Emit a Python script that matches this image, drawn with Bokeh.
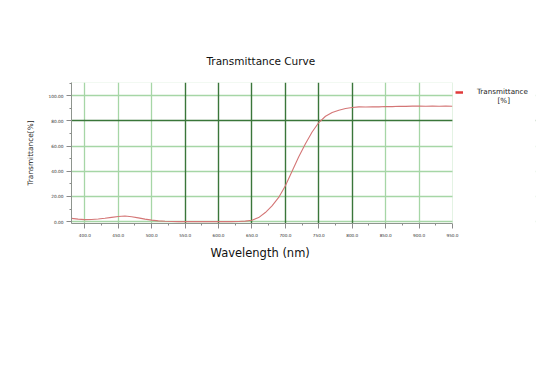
from bokeh.plotting import figure
from bokeh.models import (FixedTicker, NumeralTickFormatter, Grid, Legend, LegendItem,
                          Label, Range1d, BoxAnnotation, Title)
from bokeh.embed import file_html
from bokeh.resources import INLINE

wavelength = [380, 390, 400, 410, 420, 430, 440, 450, 460, 470, 480, 490, 500, 510, 520,
              530, 540, 550, 560, 570, 580, 590, 600, 610, 620, 630, 640, 650, 660, 670,
              680, 690, 700, 710, 720, 730, 740, 750, 760, 770, 780, 790, 800, 810, 820,
              830, 840, 850, 860, 870, 880, 890, 900, 910, 920, 930, 940, 950]
transmittance = [2.6, 2.0, 1.6, 1.7, 2.1, 2.7, 3.4, 4.1, 4.4, 3.9, 3.0, 2.0, 1.2, 0.6, 0.3,
                 0.1, 0.0, 0.0, 0.0, 0.0, 0.0, 0.0, 0.0, 0.0, 0.0, 0.1, 0.4, 1.1, 3.2, 7.2,
                 12.5, 19.2, 28.5, 40.0, 51.5, 61.9, 71.2, 78.7, 83.7, 86.7, 88.5, 89.9, 90.7, 91.1, 91.0,
                 91.2, 91.1, 91.4, 91.3, 91.6, 91.5, 91.7, 91.8, 91.6, 91.7, 91.6, 91.8, 91.6]

x_major = [400, 450, 500, 550, 600, 650, 700, 750, 800, 850, 900, 950]
x_minor = [425, 475, 525, 575, 625, 675, 725, 775, 825, 875, 925]
y_major = [0, 20, 40, 60, 80, 100]
y_minor = [10, 30, 50, 70, 90, 110]
x_grid_light = [400, 450, 500, 850, 900]
x_grid_dark = [550, 600, 650, 700, 750, 800]
y_grid_light = [0, 20, 40, 60, 100]
y_grid_dark = [80]
x_lo, x_hi = 380, 950
y_lo, y_hi = -1.5, 110.5
series_name = "Transmittance"
series_unit = "[%]"

LIGHT = "#a6d6a6"
DARK = "#3a763a"

# the frame runs on past x_hi to leave room for the legend; that part is blanked out
p = figure(width=540, height=364, output_backend="svg", toolbar_location=None,
           x_range=Range1d(x_lo, 1074.2), y_range=Range1d(y_lo, y_hi),
           min_border_left=71, min_border_right=5, min_border_top=82, min_border_bottom=141,
           title="Transmittance Curve")
p.title.align = "left"
p.title.offset = 135
p.title.text_font = "DejaVu Sans"
p.title.text_font_size = "10.5px"
p.title.text_font_style = "normal"
p.title.text_color = "#111111"
p.title.standoff = 31

p.outline_line_color = None

# grids
p.xgrid.ticker = FixedTicker(ticks=x_grid_light)
p.xgrid.grid_line_color = LIGHT
p.xgrid.grid_line_width = 1.3
p.ygrid.ticker = FixedTicker(ticks=y_grid_light)
p.ygrid.grid_line_color = LIGHT
p.ygrid.grid_line_width = 1.3
p.add_layout(Grid(dimension=0, ticker=FixedTicker(ticks=x_grid_dark),
                  grid_line_color=DARK, grid_line_width=1.4))
p.add_layout(Grid(dimension=1, ticker=FixedTicker(ticks=y_grid_dark),
                  grid_line_color=DARK, grid_line_width=1.4))

# axes
xa = p.xaxis[0]
xa.bounds = (x_lo, x_hi)
xa.ticker = FixedTicker(ticks=x_major, minor_ticks=x_minor)
xa.formatter = NumeralTickFormatter(format="0.0")
xa.major_label_text_font = "DejaVu Sans"
xa.major_label_text_font_size = "4.2px"
xa.major_label_text_color = "#333333"
xa.major_label_standoff = 4

# x-axis title, placed under the axis and centred on the data range
p.add_layout(Title(text="Wavelength (nm)", align="left", offset=139, standoff=9,
                   text_font="DejaVu Sans", text_font_size="11.5px",
                   text_font_style="normal", text_color="#111111"), "below")

ya = p.yaxis[0]
ya.ticker = FixedTicker(ticks=y_major, minor_ticks=y_minor)
ya.formatter = NumeralTickFormatter(format="0.00")
ya.axis_label = "Transmittance[%]"
ya.axis_label_text_font = "DejaVu Sans"
ya.axis_label_text_font_size = "7.4px"
ya.axis_label_text_font_style = "normal"
ya.axis_label_text_color = "#222222"
ya.axis_label_standoff = 10
ya.major_label_text_font = "DejaVu Sans"
ya.major_label_text_font_size = "4.3px"
ya.major_label_text_color = "#333333"
ya.major_label_standoff = 3

for ax in (xa, ya):
    ax.axis_line_color = "#8a8a8a"
    ax.major_tick_line_color = "#8a8a8a"
    ax.minor_tick_line_color = "#8a8a8a"
    ax.major_tick_out = 5
    ax.major_tick_in = 0
    ax.minor_tick_out = 2
    ax.minor_tick_in = 0

curve = p.line(wavelength, transmittance, line_color="#d47676", line_width=1.1)

# blank out the frame beyond the data range, then draw the plot border
p.add_layout(BoxAnnotation(left=x_hi, fill_color="white", fill_alpha=1, line_color=None))
p.add_layout(BoxAnnotation(left=x_lo, right=x_hi, bottom=y_lo, top=y_hi,
                           fill_color=None, line_color=LIGHT, line_width=1))

# legend swatch: a renderer whose single point is undefined, so it only shows in the legend
swatch = p.line(x=wavelength[:1], y=[float("nan")], line_color="#e03a3a", line_width=2.5)
legend = Legend(items=[LegendItem(label=series_name, renderers=[swatch])],
                location=(384, 127), padding=0, margin=0, spacing=0,
                glyph_width=8, glyph_height=6, label_height=8, label_standoff=14,
                label_text_font="DejaVu Sans", label_text_font_size="7.2px",
                label_text_color="#222222", border_line_color=None,
                background_fill_alpha=0)
p.add_layout(legend, "center")

p.add_layout(Label(x=1026.7, y=95.9, text=series_unit, text_align="center",
                   text_baseline="middle", text_font="DejaVu Sans",
                   text_font_size="7.2px", text_color="#222222"))

open("out.html", "w").write(file_html(p, INLINE))
